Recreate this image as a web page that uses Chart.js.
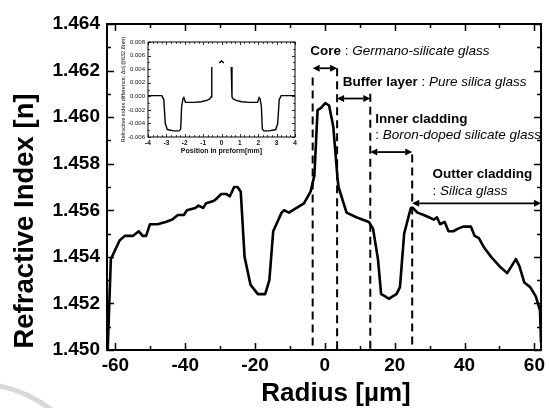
<!DOCTYPE html>
<html>
<head>
<meta charset="utf-8">
<script src="https://cdn.jsdelivr.net/npm/chart.js@4"></script>
<style>
  html, body { margin: 0; padding: 0; background: #fff; }
  #wrap { position: relative; width: 549px; height: 408px; overflow: hidden; }
  #main { position: absolute; left: 0; top: 0; }
  #inset { position: absolute; left: 100px; top: 30px; }
</style>
</head>
<body>
<div id="wrap">
  <canvas id="main" width="549" height="408"></canvas>
  <canvas id="inset" width="200" height="128"></canvas>
</div>
<script>
// measured fibre profile: radius (um) vs refractive index
const radius = [-62.2, -61.3, -58.8, -57.3, -55.0, -53.3, -52.2, -51.2, -50.1, -47.9,
  -45.6, -43.7, -42.1, -40.4, -39.5, -37.1, -36.2, -34.9, -34.0, -31.9,
  -31.0, -29.7, -28.3, -27.2, -26.0, -25.0, -24.1, -23.0, -21.3, -19.2,
  -17.1, -15.9, -14.8, -12.4, -11.7, -10.3, -8.1, -6.0, -4.1, -3.0,
  -2.1, -1.1, 0.1, 1.2, 2.4, 3.6, 3.9, 6.2, 9.0, 12.6,
  13.8, 15.2, 16.1, 17.3, 18.3, 19.4, 20.5, 21.5, 22.7, 24.6,
  25.2, 26.5, 28.3, 29.8, 31.2, 32.1, 33.0, 34.3, 35.4, 36.8,
  38.0, 39.6, 41.8, 42.9, 44.1, 45.6, 47.6, 50.0, 52.2, 54.7,
  55.7, 57.1, 58.8, 60.4, 61.6, 61.9];
const index = [1.4500, 1.4539, 1.4547, 1.4549, 1.4549, 1.4551, 1.4549, 1.4549, 1.4554, 1.4554,
  1.4555, 1.4556, 1.4558, 1.4558, 1.4560, 1.4561, 1.4562, 1.4561, 1.4563, 1.4564,
  1.4565, 1.4567, 1.4567, 1.4566, 1.4570, 1.4570, 1.4568, 1.4540, 1.4528, 1.4524,
  1.4524, 1.4530, 1.4551, 1.4559, 1.4560, 1.4559, 1.4561, 1.4563, 1.4568, 1.4575,
  1.4603, 1.4604, 1.4606, 1.4605, 1.4596, 1.4574, 1.4570, 1.4559, 1.4557, 1.4555,
  1.4552, 1.4539, 1.4524, 1.4523, 1.4522, 1.4523, 1.4524, 1.4527, 1.4550, 1.4561,
  1.4561, 1.4559, 1.4558, 1.4557, 1.4556, 1.4557, 1.4554, 1.4555, 1.4551, 1.4551,
  1.4552, 1.4553, 1.4553, 1.4549, 1.4548, 1.4544, 1.4540, 1.4536, 1.4533, 1.4539,
  1.4536, 1.4529, 1.4527, 1.4523, 1.4517, 1.4503];

const xTicks = [-60, -40, -20, 0, 20, 40, 60];
const yTicks = [1.450, 1.452, 1.454, 1.456, 1.458, 1.460, 1.462, 1.464];

// fibre layers
const layerNames = ['Core', 'Buffer layer', 'Inner cladding', 'Outter cladding'];
const layerMaterials = ['Germano-silicate glass', 'Pure silica glass', 'Boron-doped silicate glass', 'Silica glass'];
const layerFrom = [-3.5, 3.5, 13, 25];
const layerTo = [3.5, 13, 25, 61.9];

// preform profile (inset): position (mm) vs index difference
const preformPos = [-4, -3.25, -3.14, -3.06, -2.95, -2.6, -2.3, -2.22, -2.17, -2.1,
  -2.05, -1.96, -1.9, -1.5, -1.1, -0.8, -0.64, -0.57, -0.53, -0.45,
  -0.13, 0, 0.13, 0.45, 0.53, 0.57, 0.64, 0.8, 1.1, 1.5,
  1.9, 1.96, 2.05, 2.1, 2.17, 2.22, 2.3, 2.6, 2.95, 3.06,
  3.14, 3.25, 4];
const preformDn = [0.0001, 0.0001, -0.0005, -0.0040, -0.0049, -0.0051, -0.0051, -0.0048, -0.0015, -0.0004,
  -0.0002, -0.0009, -0.0009, -0.0009, -0.0008, -0.0006, -0.0004, -0.0001, 0.0043, null,
  0.0049, 0.0052, 0.0049, null, 0.0043, -0.0001, -0.0004, -0.0006, -0.0008, -0.0009,
  -0.0009, -0.0009, -0.0002, -0.0004, -0.0015, -0.0048, -0.0051, -0.0051, -0.0049, -0.0040,
  -0.0005, 0.0001, 0.0001];
const insetXTicks = [-4, -3, -2, -1, 0, 1, 2, 3, 4];
const insetYTicks = [-0.006, -0.004, -0.002, 0, 0.002, 0.004, 0.006, 0.008];

const FONT = "'Liberation Sans', Arial, Helvetica, sans-serif";

function minors(ticks, parts) {
  const out = [];
  for (let i = 0; i < ticks.length - 1; i++) {
    const step = (ticks[i + 1] - ticks[i]) / parts;
    for (let k = 1; k < parts; k++) out.push(ticks[i] + step * k);
  }
  return out;
}

// box around the plot area with inward ticks on all four sides
function drawFrame(chart, o) {
  const { ctx, chartArea: a, scales: { x, y } } = chart;
  ctx.save();
  ctx.strokeStyle = '#000';
  ctx.lineWidth = o.tickWidth;
  ctx.beginPath();
  const xs = o.xMajor.map(v => [v, o.major]).concat(o.xMinor.map(v => [v, o.minor]));
  xs.forEach(([v, len]) => {
    const p = Math.round(x.getPixelForValue(v)) + 0.5;
    ctx.moveTo(p, a.bottom); ctx.lineTo(p, a.bottom - len);
    ctx.moveTo(p, a.top); ctx.lineTo(p, a.top + len);
  });
  const ys = o.yMajor.map(v => [v, o.major]).concat(o.yMinor.map(v => [v, o.minor]));
  ys.forEach(([v, len]) => {
    const p = Math.round(y.getPixelForValue(v)) + 0.5;
    ctx.moveTo(a.left, p); ctx.lineTo(a.left + len, p);
    ctx.moveTo(a.right, p); ctx.lineTo(a.right - len, p);
  });
  ctx.stroke();
  ctx.lineWidth = o.frameWidth;
  ctx.strokeRect(a.left, a.top, a.right - a.left, a.bottom - a.top);
  ctx.restore();
}

function drawRuns(ctx, runs, x, y) {
  runs.forEach(([text, font]) => {
    ctx.font = font;
    ctx.fillText(text, x, y);
    x += ctx.measureText(text).width;
  });
}

function drawArrow(ctx, x1, x2, y) {
  const h = 7, w = 3.5;
  ctx.beginPath();
  ctx.moveTo(x1 + h, y); ctx.lineTo(x2 - h, y);
  ctx.stroke();
  ctx.beginPath();
  ctx.moveTo(x1, y); ctx.lineTo(x1 + h, y - w); ctx.lineTo(x1 + h, y + w); ctx.closePath();
  ctx.moveTo(x2, y); ctx.lineTo(x2 - h, y - w); ctx.lineTo(x2 - h, y + w); ctx.closePath();
  ctx.fill();
}

// where each layer's arrow, boundary line and caption sit (value units)
const layerLayout = [
  { arrowY: 1.4621, edgeTop: 1.4617, textX: -4.2, textY: [1.46268], twoLines: false },
  { arrowY: 1.4608, edgeTop: 1.4621, textX: 5.1, textY: [1.46133], twoLines: false },
  { arrowY: 1.4585, edgeTop: 1.4610, textX: 14.4, textY: [1.45976, 1.45905], twoLines: true },
  { arrowY: 1.4563, edgeTop: 1.4584, textX: 30.8, textY: [1.45737, 1.45666], twoLines: true }
];

const layersPlugin = {
  id: 'layers',
  afterDatasetsDraw(chart) {
    const { ctx, chartArea: a, scales: { x, y } } = chart;
    ctx.save();
    ctx.strokeStyle = '#000';
    ctx.fillStyle = '#000';

    // dashed layer boundaries
    ctx.lineWidth = 2;
    ctx.setLineDash([8, 5]);
    layerFrom.forEach((v, i) => {
      const px = x.getPixelForValue(v);
      ctx.beginPath();
      ctx.moveTo(px, y.getPixelForValue(layerLayout[i].edgeTop));
      ctx.lineTo(px, a.bottom);
      ctx.stroke();
    });
    ctx.setLineDash([]);

    // width arrows
    ctx.lineWidth = 1.8;
    layerFrom.forEach((v, i) => {
      drawArrow(ctx, x.getPixelForValue(v), x.getPixelForValue(layerTo[i]),
        y.getPixelForValue(layerLayout[i].arrowY));
    });

    // captions
    ctx.textBaseline = 'alphabetic';
    ctx.textAlign = 'left';
    const bold = 'bold 13.5px ' + FONT, plain = '13.5px ' + FONT, ital = 'italic 13.5px ' + FONT;
    layerNames.forEach((name, i) => {
      const L = layerLayout[i];
      const tx = x.getPixelForValue(L.textX);
      if (L.twoLines) {
        drawRuns(ctx, [[name, bold]], tx, y.getPixelForValue(L.textY[0]));
        drawRuns(ctx, [[': ', plain], [layerMaterials[i], ital]], tx, y.getPixelForValue(L.textY[1]));
      } else {
        drawRuns(ctx, [[name, bold], [' : ', plain], [layerMaterials[i], ital]], tx, y.getPixelForValue(L.textY[0]));
      }
    });
    ctx.restore();

    drawFrame(chart, {
      xMajor: xTicks, xMinor: minors(xTicks, 2),
      yMajor: yTicks, yMinor: minors(yTicks, 2),
      major: 7, minor: 4, tickWidth: 1.5, frameWidth: 2
    });

    // axis titles and the light swoosh in the corner
    ctx.save();
    ctx.fillStyle = '#000';
    ctx.textAlign = 'center';
    ctx.textBaseline = 'middle';
    ctx.font = 'bold 26px ' + FONT;
    ctx.fillText('Radius [\u00b5m]', 336, 394);
    ctx.font = 'bold 27.5px ' + FONT;
    ctx.translate(25, 221);
    ctx.rotate(-Math.PI / 2);
    ctx.fillText('Refractive Index [n]', 0, 0);
    ctx.restore();

    ctx.save();
    ctx.strokeStyle = 'rgba(190,190,190,0.6)';
    ctx.lineWidth = 5;
    ctx.beginPath();
    ctx.moveTo(-5, 385);
    ctx.quadraticCurveTo(25, 390, 52, 410);
    ctx.stroke();
    ctx.restore();
  }
};

new Chart(document.getElementById('main'), {
  type: 'line',
  data: {
    datasets: [{
      data: radius.map((r, i) => ({ x: r, y: index[i] })),
      borderColor: '#000',
      borderWidth: 2.6,
      pointRadius: 0,
      tension: 0,
      borderJoinStyle: 'round'
    }]
  },
  options: {
    responsive: false,
    animation: false,
    events: [],
    layout: { padding: { top: 24, right: 2, left: 0, bottom: 0 } },
    plugins: { legend: { display: false }, tooltip: { enabled: false } },
    scales: {
      x: {
        type: 'linear',
        min: -62.4,
        max: 61.9,
        afterBuildTicks: s => { s.ticks = xTicks.map(v => ({ value: v })); },
        afterFit: s => { s.height = 58; },
        grid: { display: false, drawTicks: false },
        border: { display: false },
        ticks: {
          padding: 4,
          maxRotation: 0,
          color: '#000',
          font: { family: FONT, size: 19, weight: 'bold' }
        }
      },
      y: {
        type: 'linear',
        min: 1.450,
        max: 1.464,
        afterBuildTicks: s => { s.ticks = yTicks.map(v => ({ value: v })); },
        afterFit: s => { s.width = 107; },
        grid: { display: false, drawTicks: false },
        border: { display: false },
        ticks: {
          padding: 7,
          color: '#000',
          font: { family: FONT, size: 19, weight: 'bold' },
          callback: v => v.toFixed(3)
        }
      }
    }
  },
  plugins: [layersPlugin]
});

// inset: index difference across the preform
const insetPlugin = {
  id: 'insetFrame',
  beforeDraw(chart) {
    const { ctx, chartArea: a } = chart;
    ctx.save();
    ctx.fillStyle = '#fff';
    ctx.fillRect(a.left, a.top, a.right - a.left, a.bottom - a.top);
    ctx.restore();
  },
  afterDatasetsDraw(chart) {
    const { ctx, chartArea: a } = chart;
    drawFrame(chart, {
      xMajor: insetXTicks, xMinor: minors(insetXTicks, 4),
      yMajor: insetYTicks, yMinor: minors(insetYTicks, 2),
      major: 3, minor: 1.8, tickWidth: 0.8, frameWidth: 1
    });
    ctx.save();
    ctx.fillStyle = '#111';
    ctx.textAlign = 'center';
    ctx.textBaseline = 'middle';
    ctx.font = 'bold 7px ' + FONT;
    ctx.fillText('Position in preform[mm]', (a.left + a.right) / 2, 121);
    ctx.font = '5.5px ' + FONT;
    ctx.translate(23, (a.top + a.bottom) / 2);
    ctx.rotate(-Math.PI / 2);
    ctx.fillText('Refractive index difference, \u0394n(@632.8nm)', 0, 0);
    ctx.restore();
  }
};

new Chart(document.getElementById('inset'), {
  type: 'line',
  data: {
    datasets: [{
      data: preformPos.map((p, i) => ({ x: p, y: preformDn[i] })),
      borderColor: '#000',
      borderWidth: 1.4,
      pointRadius: 0,
      tension: 0,
      spanGaps: false
    }]
  },
  options: {
    responsive: false,
    animation: false,
    events: [],
    layout: { padding: { top: 12, right: 5, left: 0, bottom: 0 } },
    plugins: { legend: { display: false }, tooltip: { enabled: false } },
    scales: {
      x: {
        type: 'linear',
        min: -4,
        max: 4,
        afterBuildTicks: s => { s.ticks = insetXTicks.map(v => ({ value: v })); },
        afterFit: s => { s.height = 21; },
        grid: { display: false, drawTicks: false },
        border: { display: false },
        ticks: {
          padding: 2,
          maxRotation: 0,
          color: '#111',
          font: { family: FONT, size: 6.5, weight: 'bold' }
        }
      },
      y: {
        type: 'linear',
        min: -0.006,
        max: 0.008,
        afterBuildTicks: s => { s.ticks = insetYTicks.map(v => ({ value: v })); },
        afterFit: s => { s.width = 48; },
        grid: { display: false, drawTicks: false },
        border: { display: false },
        ticks: {
          padding: 3,
          color: '#111',
          font: { family: FONT, size: 6 },
          callback: v => v.toFixed(3)
        }
      }
    }
  },
  plugins: [insetPlugin]
});
</script>
</body>
</html>
